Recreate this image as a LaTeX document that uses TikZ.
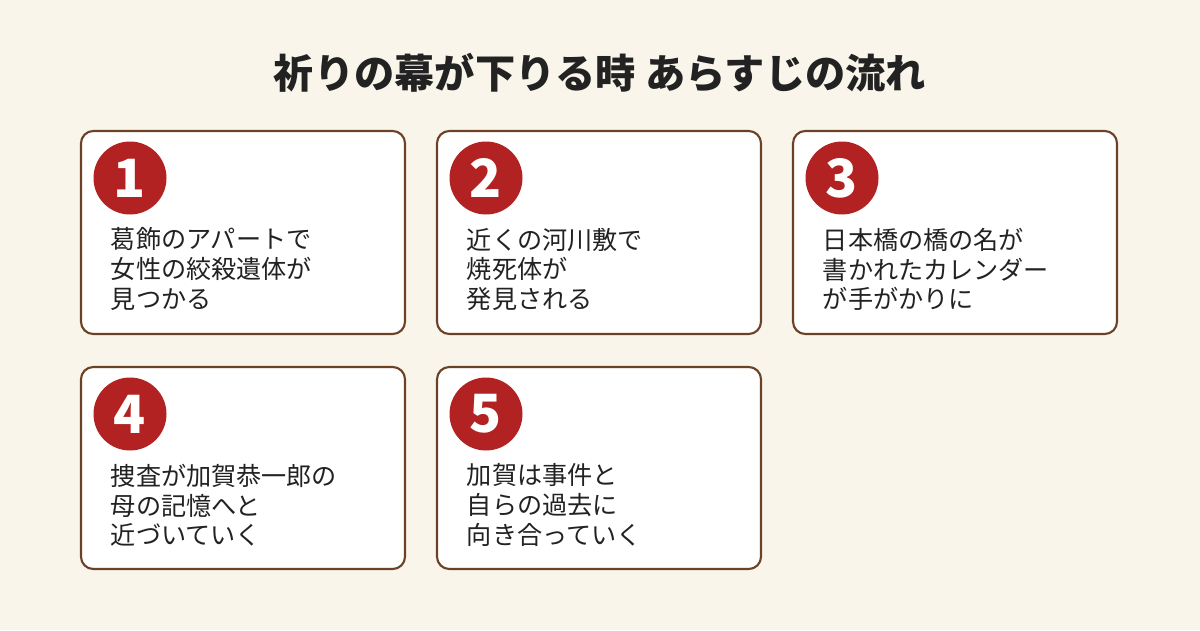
\documentclass[tikz,border=0pt]{standalone}
\usepackage{fontspec}
\setmainfont{Noto Sans CJK JP}
\usepackage{tikz}
\definecolor{bgcream}{HTML}{FAF5EA}
\definecolor{boxbrown}{HTML}{6B4226}
\definecolor{numred}{HTML}{B22222}
\definecolor{textdark}{HTML}{222222}
\tikzset{
  card/.style={draw=boxbrown, line width=1.2pt, fill=white, rounded corners=7pt},
  badge/.style={circle, fill=numred, minimum size=1.46cm, inner sep=0pt, text=white, font=\fontsize{30}{30}\selectfont\bfseries},
  story/.style={anchor=north west, align=left, inner sep=0pt, text=textdark, font=\fontsize{14.3}{17}\selectfont}
}
\begin{document}
\begin{tikzpicture}[line width=1pt]
    % background
    \fill[bgcream] (0,0) rectangle (24,12.6);
    \useasboundingbox (0,0) rectangle (24,12.6);

    % title
    \node[text=textdark, font=\fontsize{22.9}{22.9}\selectfont\bfseries] (title) at (12,11.14) {祈りの幕が下りる時 あらすじの流れ};

    % draw cards
    \draw[card] (1.62,5.92) rectangle (8.10,9.98);
    \draw[card] (8.74,5.92) rectangle (15.22,9.98);
    \draw[card] (15.86,5.92) rectangle (22.34,9.98);
    \draw[card] (1.62,1.22) rectangle (8.10,5.26);
    \draw[card] (8.74,1.22) rectangle (15.22,5.26);

    % draw number badges
    \node[badge] (n1) at (2.60,9.04) {1};
    \node[badge] (n2) at (9.72,9.04) {2};
    \node[badge] (n3) at (16.84,9.04) {3};
    \node[badge] (n4) at (2.60,4.32) {4};
    \node[badge] (n5) at (9.72,4.32) {5};

    % draw texts
    \node[story] (t1) at (2.20,8.06) {葛飾のアパートで\\女性の絞殺遺体が\\見つかる};
    \node[story] (t2) at (9.32,8.06) {近くの河川敷で\\焼死体が\\発見される};
    \node[story] (t3) at (16.44,8.06) {日本橋の橋の名が\\書かれたカレンダー\\が手がかりに};
    \node[story] (t4) at (2.20,3.34) {捜査が加賀恭一郎の\\母の記憶へと\\近づいていく};
    \node[story] (t5) at (9.32,3.34) {加賀は事件と\\自らの過去に\\向き合っていく};
\end{tikzpicture}
\end{document}
